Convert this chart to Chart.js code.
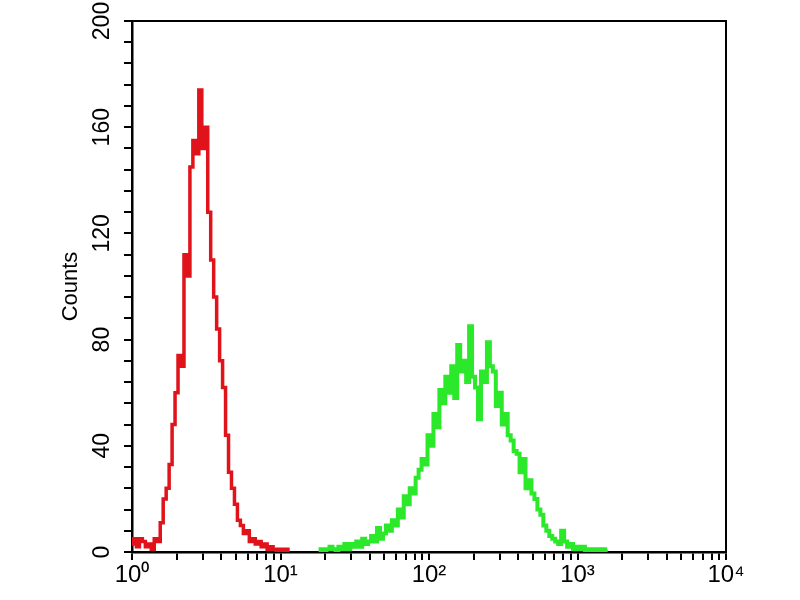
<!DOCTYPE html>
<html>
<head>
<meta charset="utf-8">
<script src="https://cdn.jsdelivr.net/npm/chart.js@4"></script>
<style>
  html, body { margin: 0; padding: 0; background: #fff; }
  canvas { display: block; }
</style>
</head>
<body>
<canvas id="histo" width="800" height="600"></canvas>
<script>
// red histogram (control), fluorescence channel -> counts
var redX = [1.000, 1.047, 1.096, 1.148, 1.202, 1.259, 1.318, 1.380, 1.445, 1.514,
  1.585, 1.660, 1.738, 1.820, 1.905, 1.995, 2.089, 2.188, 2.291, 2.399,
  2.512, 2.630, 2.754, 2.884, 3.020, 3.162, 3.311, 3.467, 3.631, 3.802,
  3.981, 4.169, 4.365, 4.571, 4.786, 5.012, 5.248, 5.495, 5.754, 6.026,
  6.310, 6.607, 6.918, 7.244, 7.586, 7.943, 8.318, 8.710, 9.120, 9.550,
  10.00, 10.47, 10.96, 11.48];
var redY = [3, 5, 2, 5, 4, 2, 3, 1, 5, 4,
  11, 20, 24, 33, 48, 60, 74, 70, 112, 104,
  145, 155, 150, 174, 152, 160, 128, 110, 96, 84,
  72, 62, 44, 30, 24, 18, 12, 10, 7, 8,
  4, 5, 3, 4, 2, 3, 1, 2, 1, 0,
  1, 0, 1, 0];

// green histogram (stained sample)
var greenX = [18.20, 19.05, 19.95, 20.89, 21.88, 22.91, 23.99, 25.12, 26.30, 27.54,
  28.84, 30.20, 31.62, 33.11, 34.67, 36.31, 38.02, 39.81, 41.69, 43.65,
  45.71, 47.86, 50.12, 52.48, 54.95, 57.54, 60.26, 63.10, 66.07, 69.18,
  72.44, 75.86, 79.43, 83.18, 87.10, 91.20, 95.50, 100.0, 104.7, 109.6,
  114.8, 120.2, 125.9, 131.8, 138.0, 144.5, 151.4, 158.5, 166.0, 173.8,
  182.0, 190.5, 199.5, 208.9, 218.8, 229.1, 239.9, 251.2, 263.0, 275.4,
  288.4, 302.0, 316.2, 331.1, 346.7, 363.1, 380.2, 398.1, 416.9, 436.5,
  457.1, 478.6, 501.2, 524.8, 549.5, 575.4, 602.6, 631.0, 660.7, 691.8,
  724.4, 758.6, 794.3, 831.8, 871.0, 912.0, 955.0, 1000, 1047, 1096,
  1148, 1202, 1259, 1318, 1380, 1445, 1514, 1585];
var greenY = [0, 1, 0, 1, 2, 1, 0, 2, 1, 3,
  1, 3, 2, 4, 2, 5, 3, 4, 6, 4,
  9, 5, 7, 10, 8, 12, 10, 16, 13, 21,
  18, 24, 22, 28, 31, 35, 33, 44, 40, 52,
  47, 61, 56, 66, 60, 70, 58, 78, 68, 72,
  64, 85, 66, 62, 50, 68, 64, 79, 70, 68,
  55, 60, 48, 52, 44, 42, 38, 37, 30, 35,
  24, 27, 22, 20, 16, 14, 10, 8, 6, 5,
  4, 3, 8, 4, 2, 3, 1, 2, 1, 2,
  0, 1, 0, 1, 0, 1, 0, 1];

// axes
var xTicks = [1, 2, 3, 4, 5, 6, 7, 8, 9,
  10, 20, 30, 40, 50, 60, 70, 80, 90,
  100, 200, 300, 400, 500, 600, 700, 800, 900,
  1000, 2000, 3000, 4000, 5000, 6000, 7000, 8000, 9000, 10000];
var xMajor = [1, 10, 100, 1000, 10000];
var xLabels = ['10\u2070', '10\u00b9', '10\u00b2', '10\u00b3', '10\u2074'];
var yLabelStep = 40;

function toPoints(xs, ys) {
  return xs.map(function (x, i) { return { x: x, y: ys[i] }; });
}

var frame = {
  id: 'frame',
  afterDraw: function (chart) {
    var a = chart.chartArea, c = chart.ctx;
    c.save();
    c.strokeStyle = '#000';
    c.lineWidth = 2;
    c.beginPath();
    c.moveTo(a.left, a.top);
    c.lineTo(a.right, a.top);
    c.lineTo(a.right, a.bottom);
    c.stroke();
    c.restore();
  }
};

Chart.defaults.font.family = "'Liberation Sans', Arial, sans-serif";
Chart.defaults.color = '#000';

var ctx = document.getElementById('histo').getContext('2d');
var chart = new Chart(ctx, {
  type: 'line',
  data: {
    datasets: [
      { label: 'control', data: toPoints(redX, redY), borderColor: '#e0121a', borderWidth: 3.5,
        stepped: 'middle', pointRadius: 0, fill: false },
      { label: 'sample', data: toPoints(greenX, greenY), borderColor: '#2be82b', borderWidth: 4,
        stepped: 'middle', pointRadius: 0, fill: false }
    ]
  },
  options: {
    responsive: false,
    animation: false,
    layout: { padding: { left: 0, top: 21, right: 74, bottom: 0 } },
    plugins: { legend: { display: false }, tooltip: { enabled: false } },
    scales: {
      x: {
        type: 'logarithmic', min: 1, max: 10000,
        afterBuildTicks: function (s) { s.ticks = xTicks.map(function (v) { return { value: v }; }); },
        afterFit: function (s) { s.height = 48; },
        ticks: {
          autoSkip: false, maxRotation: 0, minRotation: 0, padding: 1,
          font: { size: 24 },
          callback: function (v) { var j = xMajor.indexOf(v); return j >= 0 ? xLabels[j] : ''; }
        },
        grid: { drawOnChartArea: false, tickLength: 8, color: '#000', lineWidth: 2 },
        border: { color: '#000', width: 2.5 }
      },
      y: {
        min: 0, max: 200,
        afterFit: function (s) { s.width = 132; },
        ticks: {
          stepSize: 8, autoSkip: false, minRotation: 90, maxRotation: 90,
          crossAlign: 'center', padding: 2, font: { size: 23 },
          callback: function (v) { return v % yLabelStep === 0 ? v : ''; }
        },
        grid: { drawOnChartArea: false, tickLength: 8, color: '#000', lineWidth: 2 },
        border: { color: '#000', width: 2.5 },
        title: { display: true, text: 'Counts', font: { size: 22 }, padding: { top: 58, bottom: 0 } }
      }
    }
  },
  plugins: [frame]
});
</script>
</body>
</html>
